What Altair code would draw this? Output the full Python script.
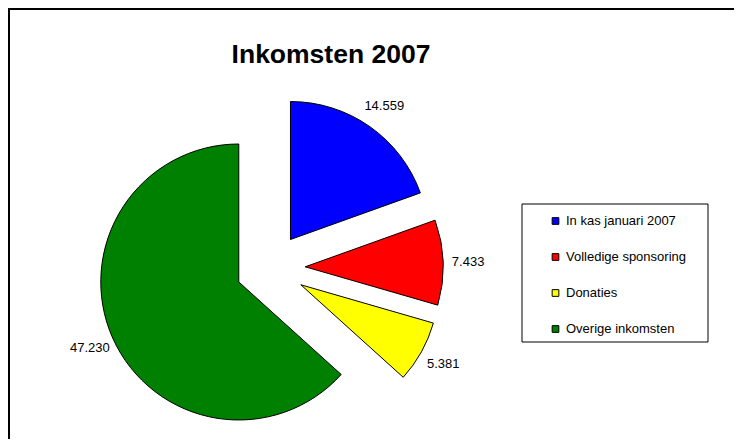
import altair as alt
import pandas as pd

categories = ["In kas januari 2007", "Volledige sponsoring", "Donaties", "Overige inkomsten"]
values = [14559, 7433, 5381, 47230]
colors = ["#0000FF", "#FF0000", "#FFFF00", "#008000"]
title_text = "Inkomsten 2007"

df = pd.DataFrame({"cat": categories, "value": values, "order": list(range(len(values)))})

FONT = "Liberation Sans"
CX, CY = 262.5, 259.9   # pie centre (view px)
EXPLODE = 34.7
R = 138
LR = 163

base = alt.Chart(df).transform_joinaggregate(
    total="sum(value)"
).transform_window(
    cum="sum(value)", sort=[alt.SortField("order")], frame=[None, 0]
).transform_calculate(
    t1="2*PI*datum.cum/datum.total",
    t0="2*PI*(datum.cum-datum.value)/datum.total",
).transform_calculate(
    mid="(datum.t0+datum.t1)/2"
).transform_calculate(
    cx=f"{CX}+{EXPLODE}*sin(datum.mid)",
    cy=f"{CY}-{EXPLODE}*cos(datum.mid)",
    label="replace(format(datum.value, ','), ',', '.')",
).transform_calculate(
    lx=f"datum.cx+{LR}*sin(datum.mid)",
    ly=f"datum.cy-{LR}*cos(datum.mid)",
)

arcs = base.mark_arc(radius=R, stroke="black", strokeWidth=1).encode(
    theta=alt.Theta("t0:Q", scale=None),
    theta2=alt.Theta2("t1:Q"),
    x=alt.X("cx:Q", scale=None, axis=None),
    y=alt.Y("cy:Q", scale=None, axis=None),
    color=alt.Color(
        "cat:N",
        scale=alt.Scale(domain=categories, range=colors),
        legend=alt.Legend(
            title=None, orient="none", legendX=541, legendY=206.5,
            symbolType="square", symbolSize=45, symbolStrokeColor="black",
            symbolStrokeWidth=1, labelFont=FONT, labelFontSize=13,
            labelColor="black", rowPadding=22, labelOffset=4, padding=0,
            zindex=1, symbolOpacity=1,
        ),
    ),
)

labels = base.mark_text(font=FONT, fontSize=13, color="black", align="center", baseline="middle").encode(
    x=alt.X("lx:Q", scale=None, axis=None),
    y=alt.Y("ly:Q", scale=None, axis=None),
    text="label:N",
)

title = alt.Chart(pd.DataFrame({"t": [title_text]})).mark_text(
    font=FONT, fontSize=26.5, fontWeight="bold", color="black", align="center", baseline="alphabetic"
).encode(x=alt.value(323), y=alt.value(54.7), text="t:N")

legend_frame = alt.Chart(pd.DataFrame({"a": [0]})).mark_rect(
    fillOpacity=0, stroke="black", strokeWidth=1
).encode(x=alt.value(514), x2=alt.value(700), y=alt.value(196), y2=alt.value(334))

top_border = alt.Chart(pd.DataFrame({"a": [0]})).mark_rule(color="black", strokeWidth=2).encode(
    x=alt.value(0), x2=alt.value(726), y=alt.value(1)
)
left_border = alt.Chart(pd.DataFrame({"a": [0]})).mark_rule(color="black", strokeWidth=2).encode(
    x=alt.value(1), y=alt.value(0), y2=alt.value(431)
)

chart = alt.layer(top_border, left_border, legend_frame, arcs, labels, title).properties(
    width=726, height=431, autosize="none", padding=0
).configure_view(stroke=None).configure(background="white")

chart.save("out.html", embed_options={"renderer": "svg", "actions": False})
